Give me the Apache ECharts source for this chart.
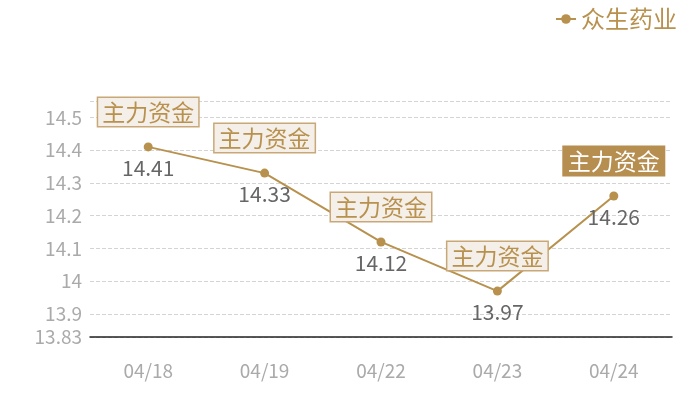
<!DOCTYPE html>
<html>
<head>
<meta charset="utf-8">
<script src="https://cdn.jsdelivr.net/npm/echarts@6/dist/echarts.min.js"></script>
<style>html,body{margin:0;padding:0;background:#fff}#c{width:700px;height:400px}</style>
</head>
<body>
<div id="c"></div>
<script>
const categories = ['04/18', '04/19', '04/22', '04/23', '04/24'];
const values = [14.41, 14.33, 14.12, 13.97, 14.26];
const seriesName = '众生药业';
const markText = '主力资金';
const yMin = 13.83;
const yMax = 14.55;

const gold = '#b8914e';
const font = '"Noto Sans CJK SC", "Noto Sans", sans-serif';
const last = values.length - 1;

const chart = echarts.init(document.getElementById('c'));
chart.setOption({
  animation: false,
  textStyle: { fontFamily: font },
  legend: {
    right: 18, top: 2,
    itemWidth: 20, itemHeight: 12, itemGap: 10,
    textStyle: { color: gold, fontSize: 24, fontFamily: font },
    data: [seriesName]
  },
  grid: { left: 90, right: 28, top: 101, bottom: 63 },
  xAxis: {
    type: 'category',
    data: categories,
    boundaryGap: true,
    axisLine: { lineStyle: { color: '#222', width: 1.5 } },
    axisTick: { show: false },
    axisLabel: { color: '#aaa', fontSize: 19, margin: 24, fontFamily: font }
  },
  yAxis: {
    type: 'value',
    min: yMin, max: yMax,
    splitNumber: 7,
    axisLine: { show: false },
    axisTick: { show: false },
    axisLabel: { color: '#aaa', fontSize: 19, margin: 8, showMaxLabel: false, fontFamily: font },
    splitLine: { lineStyle: { color: '#d4d4d4', type: 'dashed' } }
  },
  series: [{
    name: seriesName,
    type: 'line',
    data: values,
    symbol: 'circle',
    symbolSize: 9,
    itemStyle: { color: gold },
    lineStyle: { color: gold, width: 2 },
    label: {
      show: true, position: 'bottom', distance: 6,
      color: '#666', fontSize: 21, fontFamily: font
    },
    markPoint: {
      symbol: 'rect', symbolSize: 0,
      data: categories.map((c, i) => ({
        coord: [c, values[i]],
        label: {
          show: true,
          position: 'inside',
          offset: [0, -35],
          formatter: markText,
          fontSize: 23,
          fontFamily: font,
          color: i === last ? '#fff' : gold,
          backgroundColor: i === last ? '#b68e50' : '#f4efe8',
          borderColor: i === last ? '#b68e50' : '#c9a877',
          borderWidth: 1.5,
          padding: [3, 4, 2, 4]
        }
      }))
    }
  }]
});
</script>
</body>
</html>
